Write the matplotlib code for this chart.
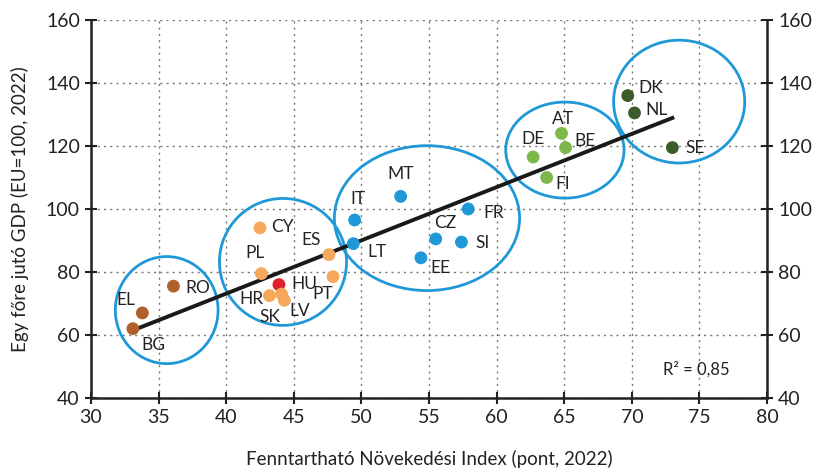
import numpy as np
import matplotlib
matplotlib.use("Agg")
import matplotlib.pyplot as plt
from matplotlib.patches import Ellipse

plt.rcParams['font.family'] = ['Lato', 'DejaVu Sans']

# Country data: sustainable growth index (x) and GDP per capita (y)
countries = ["BG", "EL", "RO", "CY", "PL", "HU", "HR", "SK", "LV", "PT", "ES",
             "IT", "LT", "MT", "EE", "CZ", "SI", "FR",
             "DE", "AT", "BE", "FI", "DK", "NL", "SE"]
index_2022 = [33.1, 33.8, 36.1, 42.5, 42.6, 43.9, 43.2, 44.1, 44.3, 47.9, 47.6,
              49.5, 49.4, 52.9, 54.4, 55.5, 57.4, 57.9,
              62.7, 64.8, 65.1, 63.7, 69.7, 70.2, 73.0]
gdp_2022 = [62.0, 67.0, 75.5, 94.0, 79.5, 76.0, 72.5, 73.0, 71.0, 78.5, 85.5,
            96.5, 89.0, 104.0, 84.5, 90.5, 89.5, 100.0,
            116.5, 124.0, 119.5, 110.0, 136.0, 130.5, 119.5]
groups = ["s", "s", "s", "c", "c", "h", "c", "c", "c", "c", "c",
          "m", "m", "m", "m", "m", "m", "m",
          "w", "w", "w", "w", "n", "n", "n"]

group_colors = {"s": "#b0602a", "c": "#f6a95c", "h": "#e0202a",
                "m": "#1f98d8", "w": "#7cb84a", "n": "#3b5c29"}

# label offsets in pixels (dx, dy)
label_offsets = {
    "BG": (20, -16), "EL": (-17, 13), "RO": (24, -2), "CY": (22, 1),
    "PL": (-6, 21), "HU": (25, 1), "HR": (-18, -3), "SK": (-12, -23),
    "LV": (15, -11), "PT": (-10, -17), "ES": (-18, 15), "IT": (3, 21),
    "LT": (24, -8), "MT": (0, 22), "EE": (19, -10), "CZ": (9, 16),
    "SI": (21, -1), "FR": (25, -4), "DE": (0, 18), "AT": (1, 14),
    "BE": (19, 7), "FI": (16, -7), "DK": (23, 8), "NL": (22, 3),
    "SE": (23, 0),
}

# cluster ellipses: centre x, centre y, width, height (data units)
ellipse_cx = [35.6, 44.2, 54.85, 65.05, 73.5]
ellipse_cy = [67.9, 83.2, 97.1, 118.7, 134.1]
ellipse_w = [7.6, 9.4, 13.7, 8.75, 9.7]
ellipse_h = [34.0, 40.3, 46.0, 30.5, 39.0]

x_ticks = list(range(30, 85, 5))
y_ticks = list(range(40, 180, 20))

fig = plt.figure(figsize=(8.16, 4.73), dpi=100)
ax = fig.add_axes([0.1115, 0.1586, 0.8285, 0.7991])

ax.set_xlim(30, 80)
ax.set_ylim(40, 160)
ax.set_xticks(x_ticks)
ax.set_yticks(y_ticks)
ax.grid(True, color="#777777", linestyle=(0, (1.5, 3)), linewidth=1.0)
ax.set_axisbelow(True)

for side in ["left", "bottom", "right"]:
    ax.spines[side].set_linewidth(1.8)
    ax.spines[side].set_color("#222222")
ax.spines["top"].set_visible(False)

ax.tick_params(axis="both", direction="inout", length=8, width=1.5,
               labelsize=14, colors="#222222", pad=4)
ax.tick_params(axis="y", right=True, labelright=True)

# fitted trend line
x = np.array(index_2022)
y = np.array(gdp_2022)
slope, intercept = np.polyfit(x, y, 1)
xs = np.array([x.min(), x.max()])
ax.plot(xs, slope * xs + intercept, color="#1a1a1a", linewidth=2.8, zorder=3)

for cx, cy, w, h in zip(ellipse_cx, ellipse_cy, ellipse_w, ellipse_h):
    ax.add_patch(Ellipse((cx, cy), w, h, fill=False, edgecolor="#1f98d8",
                         linewidth=2.0, zorder=2, clip_on=False))

cols = [group_colors[g] for g in groups]
ax.scatter(x, y, s=85, c=cols, edgecolors="none", zorder=4)

for name, xi, yi in zip(countries, index_2022, gdp_2022):
    dx, dy = label_offsets[name]
    ax.annotate(name, (xi, yi), xytext=(dx, dy), textcoords="offset pixels",
                ha="center", va="center", fontsize=12.5, color="#222222",
                zorder=5)

ax.text(0.945, 0.075, "R² = 0,85", transform=ax.transAxes, ha="right",
        va="center", fontsize=12, color="#222222")

ax.set_xlabel("Fenntartható Növekedési Index (pont, 2022)", fontsize=13.5,
              color="#222222", labelpad=17)
ax.set_ylabel("Egy főre jutó GDP (EU=100, 2022)", fontsize=13.5,
              color="#222222", labelpad=12)

fig.savefig("out.png", dpi=100)
